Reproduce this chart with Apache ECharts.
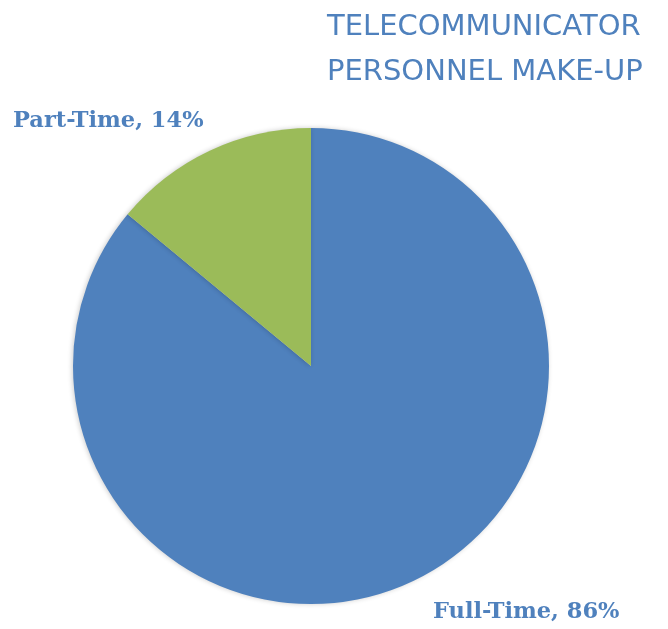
<!DOCTYPE html>
<html>
<head>
<meta charset="utf-8">
<script src="https://cdn.jsdelivr.net/npm/echarts@6/dist/echarts.min.js"></script>
<style>html,body{margin:0;padding:0;background:#fff}#c{width:668px;height:629px}</style>
</head>
<body>
<div id="c"></div>
<script>
const categories = ['Full-Time', 'Part-Time'];
const values = [86, 14];
const colors = ['#4F81BD', '#9BBB59'];
const titleLines = ['TELECOMMUNICATOR', 'PERSONNEL MAKE-UP'];

const chart = echarts.init(document.getElementById('c'));
const labelPos = [
  {x: 433, y: 612, align: 'left'},
  {x: 13, y: 121, align: 'left'}
];
chart.setOption({
  animation: false,
  backgroundColor: '#fff',
  title: {
    text: titleLines.join('\n'),
    left: 322,
    top: 0,
    textStyle: {
      fontFamily: 'DejaVu Sans',
      fontWeight: 'normal',
      fontSize: 29,
      lineHeight: 45,
      color: '#4F81BD'
    }
  },
  series: [{
    type: 'pie',
    center: [311, 366],
    radius: 238,
    startAngle: 90,
    clockwise: true,
    data: categories.map((c, i) => ({name: c, value: values[i], itemStyle: {color: colors[i]}})),
    itemStyle: {
      shadowBlur: 5,
      shadowColor: 'rgba(0,0,0,0.2)',
      shadowOffsetX: -1,
      shadowOffsetY: 0
    },
    label: {
      show: true,
      position: 'outside',
      formatter: '{b}, {d}%',
      fontFamily: 'DejaVu Serif',
      fontWeight: 'bold',
      fontSize: 22.5,
      color: '#4F81BD',
      overflow: 'none',
      width: 300
    },
    labelLine: {show: false},
    labelLayout: function (p) {
      const l = labelPos[p.dataIndex];
      return {x: l.x, y: l.y, align: l.align, verticalAlign: 'middle'};
    },
    emphasis: {disabled: true}
  }]
});
</script>
</body>
</html>
